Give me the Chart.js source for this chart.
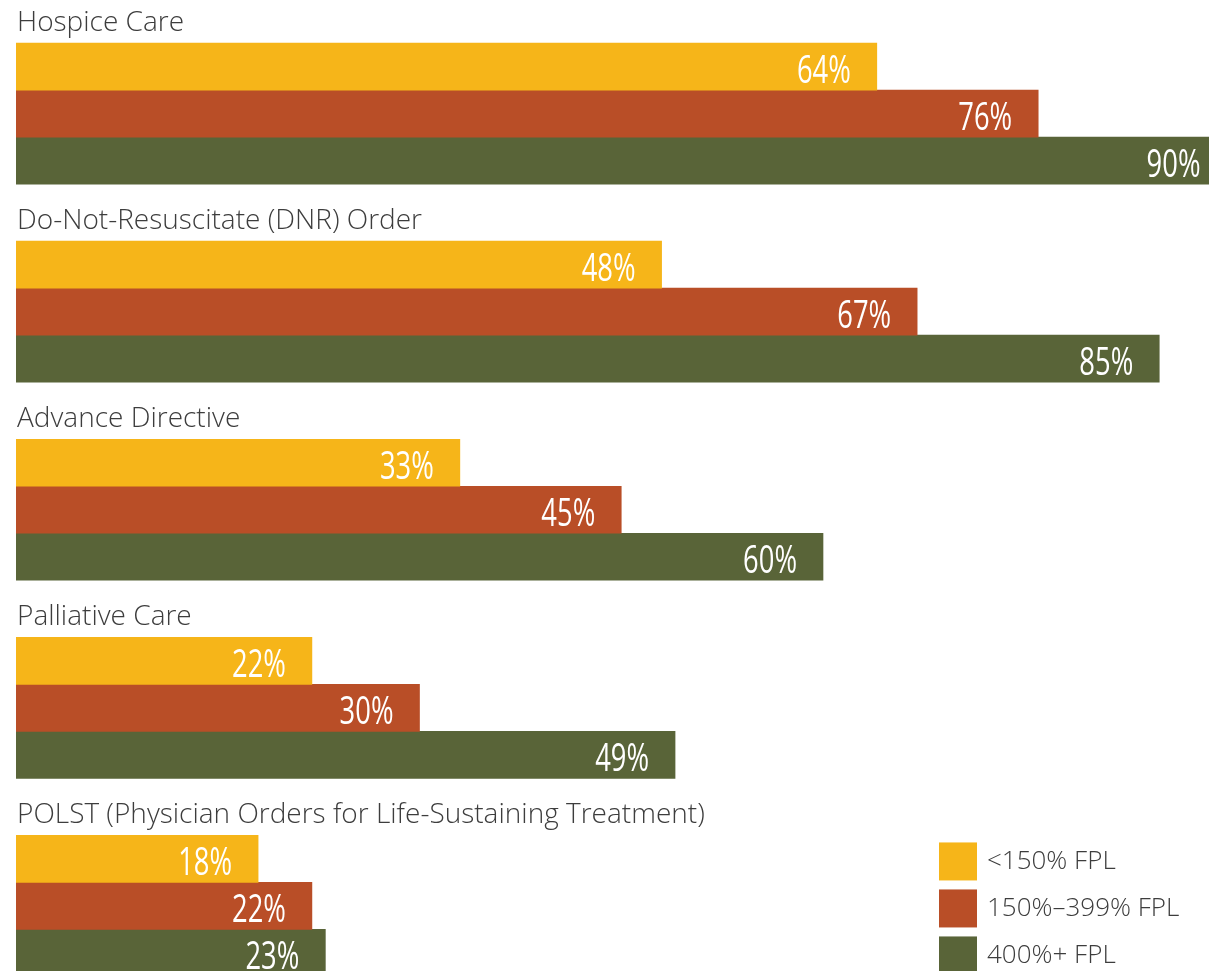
<!DOCTYPE html>
<html>
<head>
<meta charset="utf-8">
<title>End-of-life care awareness by income</title>
<script src="https://cdn.jsdelivr.net/npm/chart.js@4"></script>
<style>
    html, body { margin: 0; padding: 0; background: #fff; overflow: hidden; }
    #wrap { width: 1209px; height: 971px; overflow: hidden; }
    canvas { display: block; }
</style>
</head>
<body>
<div id="wrap"><canvas id="careChart" width="1361" height="1005"></canvas></div>
<script>
const categories = [
    "Hospice Care",
    "Do-Not-Resuscitate (DNR) Order",
    "Advance Directive",
    "Palliative Care",
    "POLST (Physician Orders for Life-Sustaining Treatment)"
];
const seriesNames = ["<150% FPL", "150%–399% FPL", "400%+ FPL"];
const below150 = [64, 48, 33, 22, 18];
const from150to399 = [76, 67, 45, 30, 22];
const above400 = [90, 85, 60, 49, 23];

const colors = ["#F6B519", "#B94E27", "#596438"];
const textColor = "#3d3d3d";

// titles above each group of bars
const groupTitles = {
    id: "groupTitles",
    afterDatasetsDraw(chart) {
        const ctx = chart.ctx;
        const meta = chart.getDatasetMeta(0);
        ctx.save();
        ctx.fillStyle = textColor;
        ctx.font = "300 28px 'Open Sans', 'Noto Sans', sans-serif";
        ctx.textAlign = "left";
        ctx.textBaseline = "alphabetic";
        meta.data.forEach((bar, i) => {
            const top = bar.y - bar.height / 2;
            ctx.fillText(chart.data.labels[i], 17, top - 12);
        });
        ctx.restore();
    }
};

// white percentage labels inside the bar ends (squeezed to a condensed look)
const squeeze = 0.72;
const valueLabels = {
    id: "valueLabels",
    afterDatasetsDraw(chart) {
        const ctx = chart.ctx;
        ctx.save();
        ctx.fillStyle = "#fff";
        ctx.font = "38px 'Open Sans', 'Noto Sans', sans-serif";
        ctx.textAlign = "right";
        ctx.textBaseline = "alphabetic";
        chart.data.datasets.forEach((ds, d) => {
            chart.getDatasetMeta(d).data.forEach((bar, i) => {
                ctx.save();
                ctx.translate(bar.x - 26, bar.y + 16);
                ctx.scale(squeeze, 1);
                ctx.fillText(ds.data[i] + "%", 0, 0);
                ctx.restore();
            });
        });
        ctx.restore();
    }
};

// legend squares beside the last group
const sideLegend = {
    id: "sideLegend",
    afterDraw(chart) {
        const ctx = chart.ctx;
        const last = chart.data.labels.length - 1;
        ctx.save();
        ctx.font = "300 26px 'Open Sans', 'Noto Sans', sans-serif";
        ctx.textAlign = "left";
        ctx.textBaseline = "middle";
        chart.data.datasets.forEach((ds, d) => {
            const bar = chart.getDatasetMeta(d).data[last];
            const cy = bar.y + 2.5;
            ctx.fillStyle = ds.backgroundColor;
            ctx.fillRect(939, cy - 19, 38, 38);
            ctx.fillStyle = textColor;
            ctx.fillText(ds.label, 987, cy);
        });
        ctx.restore();
    }
};

const ctx = document.getElementById("careChart").getContext("2d");
const chart = new Chart(ctx, {
    type: "bar",
    data: {
        labels: categories,
        datasets: [
            { label: seriesNames[0], data: below150, backgroundColor: colors[0] },
            { label: seriesNames[1], data: from150to399, backgroundColor: colors[1] },
            { label: seriesNames[2], data: above400, backgroundColor: colors[2] }
        ]
    },
    options: {
        indexAxis: "y",
        responsive: false,
        animation: false,
        devicePixelRatio: 1,
        layout: { padding: { top: 14.5, left: 16, right: 0, bottom: 0 } },
        datasets: {
            bar: { barThickness: 47, borderWidth: 0 }
        },
        scales: {
            x: { display: false, min: 0, max: 100 },
            y: { display: false, offset: true }
        },
        plugins: {
            legend: { display: false },
            tooltip: { enabled: false }
        }
    },
    plugins: [groupTitles, valueLabels, sideLegend]
});
</script>
</body>
</html>
